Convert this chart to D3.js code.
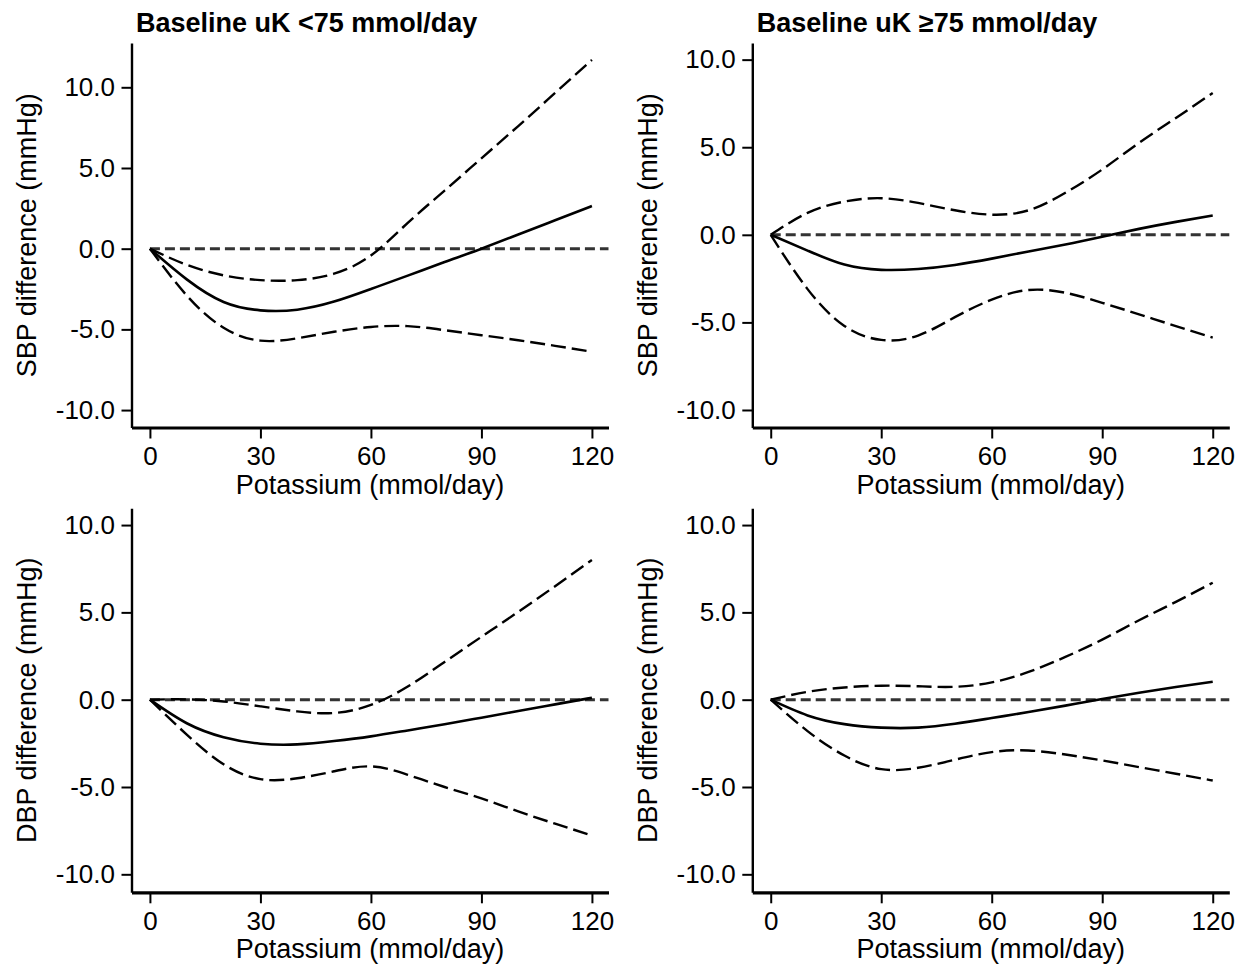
<!DOCTYPE html>
<html><head><meta charset="utf-8">
<script src="https://cdn.jsdelivr.net/npm/d3@7"></script>
<style>
body{margin:0;background:#fff}
svg text{font-family:"Liberation Sans",Arial,Helvetica,sans-serif;fill:#000}
</style>
</head><body>
<svg id="chart" width="1246" height="970"></svg>
<script>
// ---- data ----
const potassium = [0,10,20,30,40,50,60,70,80,90,100,110,120];
const xTicks = [0,30,60,90,120];
const yTicks = [-10,-5,0,5,10];
const titles = ["Baseline uK <75 mmol/day","Baseline uK \u226575 mmol/day"];
const yLabels = ["SBP difference (mmHg)","DBP difference (mmHg)"];
const xLabel = "Potassium (mmol/day)";

const sbpLowEst = [0,-1.9,-3.3,-3.82,-3.78,-3.28,-2.5,-1.67,-0.83,0,0.88,1.76,2.64];
const sbpLowHi  = [0,-1.0,-1.65,-1.95,-1.95,-1.55,-0.42,1.6,3.6,5.6,7.6,9.65,11.7];
const sbpLowLo  = [0,-2.9,-4.9,-5.7,-5.55,-5.15,-4.85,-4.8,-5.05,-5.36,-5.67,-6.02,-6.39];

const sbpHighEst = [0,-0.9,-1.7,-2.0,-1.95,-1.72,-1.36,-0.95,-0.55,-0.11,0.34,0.74,1.1];
const sbpHighHi  = [0,1.25,1.9,2.09,1.82,1.4,1.15,1.4,2.4,3.73,5.25,6.67,8.1];
const sbpHighLo  = [0,-3.1,-5.2,-6.0,-5.75,-4.7,-3.7,-3.15,-3.31,-3.88,-4.54,-5.21,-5.87];

const dbpLowEst = [0,-1.35,-2.15,-2.52,-2.56,-2.37,-2.1,-1.76,-1.41,-1.03,-0.65,-0.27,0.11];
const dbpLowHi  = [0,0.02,-0.1,-0.38,-0.67,-0.76,-0.3,0.75,2.16,3.6,5.03,6.5,8.0];
const dbpLowLo  = [0,-2.0,-3.7,-4.55,-4.5,-4.1,-3.82,-4.3,-5.0,-5.65,-6.4,-7.1,-7.78];

const dbpHighEst = [0,-0.9,-1.4,-1.6,-1.6,-1.38,-1.05,-0.71,-0.34,0.04,0.4,0.73,1.03];
const dbpHighHi  = [0,0.45,0.7,0.8,0.77,0.74,0.99,1.59,2.45,3.44,4.55,5.6,6.7];
const dbpHighLo  = [0,-1.8,-3.2,-3.98,-3.9,-3.44,-3.0,-2.91,-3.14,-3.48,-3.86,-4.24,-4.63];

const xDomain = [-5, 124.5];

// ---- layout ----
const cols = [{left:131.5,right:608.5},{left:752.3,right:1229.3}];
const rows = [{top:43,bottom:427.5},{top:508.3,bottom:892.3}];

const panels = [
  {row:0,col:0,yDomain:[-11.08,12.745],est:sbpLowEst,hi:sbpLowHi,lo:sbpLowLo},
  {row:0,col:1,yDomain:[-11.0,10.95],est:sbpHighEst,hi:sbpHighHi,lo:sbpHighLo},
  {row:1,col:0,yDomain:[-11.03,10.96],est:dbpLowEst,hi:dbpLowHi,lo:dbpLowLo},
  {row:1,col:1,yDomain:[-11.03,10.96],est:dbpHighEst,hi:dbpHighHi,lo:dbpHighLo}
];

const svg = d3.select("#chart");

panels.forEach(p => {
  const c = cols[p.col], r = rows[p.row];
  const x = d3.scaleLinear().domain(xDomain).range([c.left, c.right]);
  const y = d3.scaleLinear().domain(p.yDomain).range([r.bottom, r.top]);
  const g = svg.append("g");

  // y axis
  const ya = g.append("g").attr("transform",`translate(${c.left},0)`)
    .call(d3.axisLeft(y).tickValues(yTicks).tickFormat(d=>d.toFixed(1)).tickSize(10).tickSizeOuter(0).tickPadding(6.5));
  ya.select(".domain").attr("stroke","#000").attr("stroke-width",2.4);
  ya.selectAll(".tick line").attr("stroke","#000").attr("stroke-width",2);
  ya.selectAll(".tick text").attr("font-size",26).attr("font-family",null);

  // x axis
  const xa = g.append("g").attr("transform",`translate(0,${r.bottom})`)
    .call(d3.axisBottom(x).tickValues(xTicks).tickFormat(d3.format("d")).tickSize(11).tickSizeOuter(0).tickPadding(8.5));
  xa.select(".domain").attr("stroke","#000").attr("stroke-width",3.2);
  xa.selectAll(".tick line").attr("stroke","#000").attr("stroke-width",2);
  xa.selectAll(".tick text").attr("font-size",26).attr("font-family",null);

  // reference line at 0
  g.append("line")
    .attr("x1",x(0)).attr("x2",x(xDomain[1]))
    .attr("y1",y(0)).attr("y2",y(0))
    .attr("stroke","#333").attr("stroke-width",3)
    .attr("stroke-dasharray","10,5");

  const line = d3.line().x((d,i)=>x(potassium[i])).y(d=>y(d)).curve(d3.curveNatural);

  [p.hi,p.lo].forEach(arr=>{
    g.append("path").datum(arr).attr("d",line)
      .attr("fill","none").attr("stroke","#000").attr("stroke-width",2.4)
      .attr("stroke-dasharray","15,6");
  });
  g.append("path").datum(p.est).attr("d",line)
    .attr("fill","none").attr("stroke","#000").attr("stroke-width",2.6);

  // x label
  g.append("text").attr("x",(c.left+c.right)/2).attr("y",r.bottom+66)
    .attr("text-anchor","middle").attr("font-size",27).text(xLabel);

  // y label
  const cy = (r.top+r.bottom)/2, cx = c.left-95.5;
  g.append("text").attr("transform",`translate(${cx},${cy}) rotate(-90)`)
    .attr("text-anchor","middle").attr("font-size",27).text(yLabels[p.row]);

  // title
  if (p.row===0){
    g.append("text").attr("x",c.left+4.5).attr("y",32.3)
      .attr("font-size",27).attr("font-weight","bold").text(titles[p.col]);
  }
});
</script>
</body></html>
